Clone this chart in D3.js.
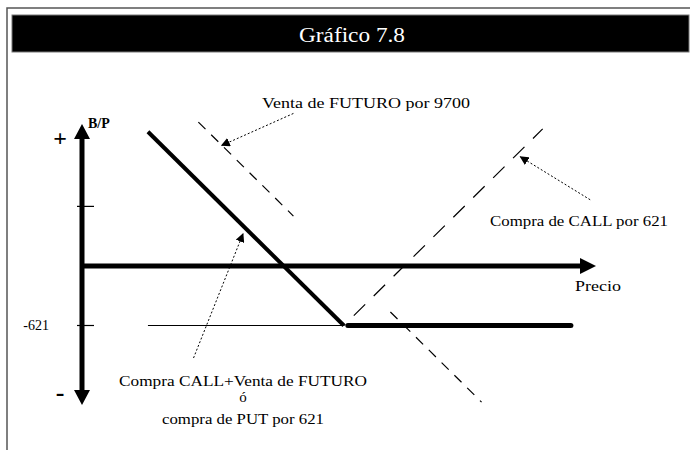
<!DOCTYPE html>
<html>
<head>
<meta charset="utf-8">
<script src="https://cdn.jsdelivr.net/npm/d3@7"></script>
<style>
body{margin:0;background:#fff}
text{font-family:"Liberation Serif","Times New Roman",serif}
</style>
</head>
<body>
<svg id="chart" width="690" height="450"></svg>
<script>
// precios y beneficio/perdida
var strike = 9700
var premium = 621
var combined = [[7680,1399],[9700,-621],[12000,-621]]   // compra CALL + venta FUTURO
var callFlat = [[7680,-621],[9700,-621]]
var callRise = [[9700,-621],[11750,1429]]
var futureParts = [[[8200,1500],[9180,520]],[[10180,-480],[11120,-1420]]]
var yTicks = [621,-621]
var yTickLabels = ["","-621"]

var svg = d3.select("#chart")
var x = d3.scaleLinear().domain([7000,12300]).range([82,596])
var y = d3.scaleLinear().domain([-1450,1480]).range([405,124])
var line = d3.line().x(function(d){return x(d[0])}).y(function(d){return y(d[1])})

// marco y titulo
svg.append("path").attr("d","M7,450 V8 H690").attr("fill","none").attr("stroke","#555").attr("stroke-width",1.5)
svg.append("rect").attr("x",12).attr("y",15).attr("width",677).attr("height",37).attr("fill","#000")
	.attr("stroke","#777").attr("stroke-width",1)
svg.append("text").attr("x",299).attr("y",42).attr("fill","#fff")
	.attr("font-size",20).attr("textLength",106).attr("lengthAdjust","spacingAndGlyphs").text("Gráfico 7.8")

// flechas
var defs = svg.append("defs")
defs.append("marker").attr("id","ah").attr("viewBox","0 0 10 10").attr("refX",9).attr("refY",5)
	.attr("markerWidth",9).attr("markerHeight",9).attr("markerUnits","userSpaceOnUse").attr("orient","auto")
	.append("path").attr("d","M0,0 L10,5 L0,10 Z").attr("fill","#000")

// ejes
var x0 = x(7000), y0 = y(0)
svg.append("line").attr("x1",x0).attr("x2",x0).attr("y1",y(-1450)-14).attr("y2",y(1480)+14)
	.attr("stroke","#000").attr("stroke-width",5)
svg.append("path").attr("d","M"+(x0-8)+","+(y(1480)+15)+" L"+x0+","+y(1480)+" L"+(x0+8)+","+(y(1480)+15)+"Z")
svg.append("path").attr("d","M"+(x0-8)+","+(y(-1450)-15)+" L"+x0+","+y(-1450)+" L"+(x0+8)+","+(y(-1450)-15)+"Z")
svg.append("line").attr("x1",x0).attr("x2",x(12300)-14).attr("y1",y0).attr("y2",y0)
	.attr("stroke","#000").attr("stroke-width",5)
svg.append("path").attr("d","M"+(x(12300)-16)+","+(y0-8)+" L"+x(12300)+","+y0+" L"+(x(12300)-16)+","+(y0+8)+"Z")

svg.selectAll(".tick").data(yTicks).enter().append("line").attr("class","tick")
	.attr("x1",x0-5).attr("x2",x0+12).attr("y1",function(d){return y(d)}).attr("y2",function(d){return y(d)})
	.attr("stroke","#000").attr("stroke-width",1.2)
svg.selectAll(".tlab").data(yTicks).enter().append("text").attr("class","tlab")
	.attr("x",x0-33).attr("y",function(d){return y(d)+5}).attr("text-anchor","end").attr("font-size",14)
	.text(function(d,i){return yTickLabels[i]})

svg.append("text").attr("x",x0+6).attr("y",y(1480)+4).attr("font-size",14).attr("font-weight","bold").text("B/P")
svg.append("text").attr("x",x0-22).attr("y",y(1480)+22).attr("font-size",24).attr("font-weight","bold").attr("text-anchor","middle").text("+")
svg.append("text").attr("x",x0-22).attr("y",y(-1450)-4).attr("font-size",26).attr("font-weight","bold").attr("text-anchor","middle").text("-")
svg.append("text").attr("x",x(12300)-21).attr("y",y0+25).attr("font-size",15)
	.attr("textLength",46).attr("lengthAdjust","spacingAndGlyphs").text("Precio")

// lineas
svg.append("path").attr("d",line(callFlat)).attr("fill","none").attr("stroke","#000").attr("stroke-width",1.2)
svg.append("path").attr("d",line(callRise)).attr("fill","none").attr("stroke","#000").attr("stroke-width",1.2)
	.attr("stroke-dasharray","16,12").attr("stroke-dashoffset",-14)
futureParts.forEach(function(p){
	svg.append("path").attr("d",line(p)).attr("fill","none").attr("stroke","#000").attr("stroke-width",1.2)
		.attr("stroke-dasharray","10,8")
})
svg.append("path").attr("d",line(combined.slice(0,2))).attr("fill","none").attr("stroke","#000").attr("stroke-width",4)
svg.append("path").attr("d",line(combined.slice(1))).attr("fill","none").attr("stroke","#000").attr("stroke-width",5)
	.attr("stroke-linecap","round").attr("transform","translate(4,0)")

// anotaciones: punta, cola, lineas de texto [texto, ancho], posicion texto
var notes = [
	{head:[8440,1256], tail:[9180,1590], lines:[["Venta de FUTURO por 9700",208]], at:[8856,1650], anchor:"start"},
	{head:[11520,1138], tail:[12240,690], lines:[["Compra de CALL por 621",178]], at:[11207,416], anchor:"start"},
	{head:[8660,335], tail:[8150,-960], lines:[["Compra CALL+Venta de FUTURO",248],["ó",0],["compra de PUT por 621",162]], at:[8660,-1250], anchor:"middle"}
]
notes.forEach(function(n){
	svg.append("line").attr("x1",x(n.tail[0])).attr("y1",y(n.tail[1])).attr("x2",x(n.head[0])).attr("y2",y(n.head[1]))
		.attr("stroke","#000").attr("stroke-width",1).attr("stroke-dasharray","2,2").attr("marker-end","url(#ah)")
	var t = svg.append("text").attr("x",x(n.at[0])).attr("y",y(n.at[1])).attr("text-anchor",n.anchor).attr("font-size",15)
	n.lines.forEach(function(s,i){
		var ts = t.append("tspan").attr("x",x(n.at[0])).attr("dy",i==0?0:(i==1?16:22)).text(s[0])
		if(s[1]) ts.attr("textLength",s[1]).attr("lengthAdjust","spacingAndGlyphs")
	})
})
</script>
</body>
</html>
